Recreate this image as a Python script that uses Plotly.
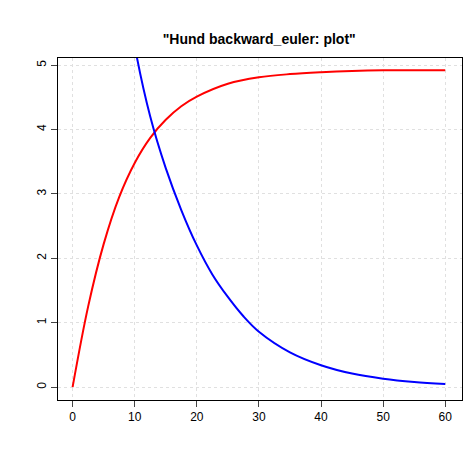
import plotly.graph_objects as go

t_red = [0, 2.5, 5, 7.5, 10, 12.5, 15, 17.5, 20, 25, 30, 35, 40, 45, 50, 55, 60]
red = [0, 1.25, 2.22, 2.95, 3.48, 3.87, 4.15, 4.36, 4.51, 4.71, 4.81, 4.86, 4.89, 4.91, 4.92, 4.92, 4.92]
t_blue = [0, 5, 10, 12.5, 15, 17.5, 20, 22.5, 25, 27.5, 30, 35, 40, 45, 50, 55, 60]
blue = [14.3, 8.5, 5.3, 4.2, 3.4, 2.75, 2.2, 1.75, 1.4, 1.1, 0.86, 0.54, 0.34, 0.21, 0.13, 0.08, 0.05]
xticks = [0, 10, 20, 30, 40, 50, 60]
yticks = [0, 1, 2, 3, 4, 5]

fig = go.Figure()
fig.add_trace(go.Scatter(x=t_red, y=red, mode="lines", line=dict(color="red", width=2, shape="spline")))
fig.add_trace(go.Scatter(x=t_blue, y=blue, mode="lines", line=dict(color="blue", width=2, shape="spline")))
ax = dict(showline=True, mirror=True, linecolor="black", linewidth=1, ticks="outside",
          ticklen=6, showgrid=True, gridcolor="#e0e0e0", griddash="dot", zeroline=False,
          tickfont=dict(family="Liberation Sans, Arial", size=12, color="black"))
fig.update_layout(
    width=474, height=474, showlegend=False, plot_bgcolor="white", paper_bgcolor="white",
    margin=dict(l=50, r=20, t=50, b=82),
    title=dict(text='<b>"Hund backward_euler: plot"</b>', x=0.53, y=0.945, xanchor="center",
               font=dict(family="Liberation Sans, Arial", size=14, color="black")),
    xaxis=dict(ax, range=[-2.35, 62.7], tickvals=xticks),
    yaxis=dict(ax, range=[-0.2, 5.11], tickvals=yticks, tickangle=-90),
)
fig.write_html("out.html")
